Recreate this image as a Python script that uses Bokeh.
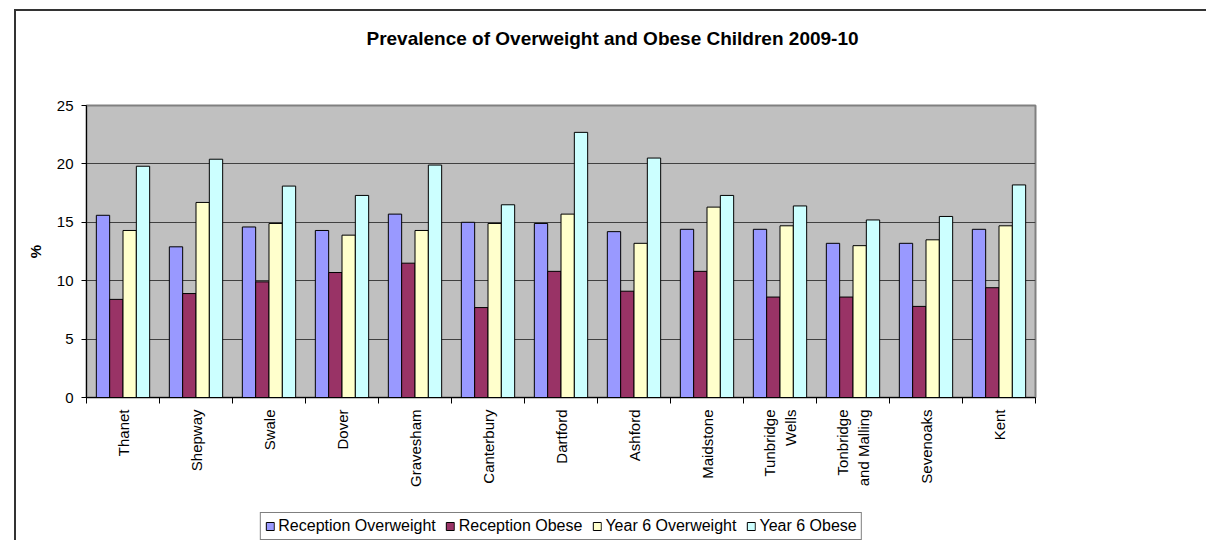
from math import pi
from bokeh.plotting import figure
from bokeh.layouts import column
from bokeh.models import (Range1d, FixedTicker, Legend, LegendItem, Label, ColumnDataSource)
from bokeh.transform import dodge
from bokeh.embed import file_html
from bokeh.resources import INLINE

title_text = "Prevalence of Overweight and Obese Children 2009-10"
districts = ["Thanet", "Shepway", "Swale", "Dover", "Gravesham", "Canterbury", "Dartford",
             "Ashford", "Maidstone", "Tunbridge\nWells", "Tonbridge\nand Malling", "Sevenoaks", "Kent"]
reception_overweight = [15.6, 12.9, 14.6, 14.3, 15.7, 15.0, 14.9, 14.2, 14.4, 14.4, 13.2, 13.2, 14.4]
reception_obese = [8.4, 8.9, 9.9, 10.7, 11.5, 7.7, 10.8, 9.1, 10.8, 8.6, 8.6, 7.8, 9.4]
year6_overweight = [14.3, 16.7, 14.9, 13.9, 14.3, 14.9, 15.7, 13.2, 16.3, 14.7, 13.0, 13.5, 14.7]
year6_obese = [19.8, 20.4, 18.1, 17.3, 19.9, 16.5, 22.7, 20.5, 17.3, 16.4, 15.2, 15.5, 18.2]
series_names = ["Reception Overweight", "Reception Obese", "Year 6 Overweight", "Year 6 Obese"]
y_ticks = [0, 5, 10, 15, 20, 25]

FONT = "Liberation Sans"
colors = ["#9999FF", "#993366", "#FFFFCC", "#CCFFFF"]
cols = ["ro", "rb", "yo", "yb"]
offsets = [-0.274, -0.0913, 0.0913, 0.274]
bar_w = 0.1826
W = 1190

n = len(districts)
centers = [i + 0.5 for i in range(n)]          # category slot centres on a 0..n axis
bounds = list(range(n + 1))                    # slot boundaries (tick marks)

source = ColumnDataSource(dict(pos=centers, ro=reception_overweight, rb=reception_obese,
                               yo=year6_overweight, yb=year6_obese))

# ---- title strip ----
tf = figure(width=W, height=60, x_range=Range1d(0, 1), y_range=Range1d(0, 1),
            x_axis_location=None, y_axis_location=None,
            output_backend="svg", toolbar_location=None,
            min_border_left=0, min_border_right=0, min_border_top=0, min_border_bottom=0,
            background_fill_color="white", border_fill_color="white", outline_line_color=None)
tf.grid.visible = False
tf.add_layout(Label(x=526, y=33, x_units="screen", y_units="screen", text=title_text,
                    text_font=FONT, text_font_size="19px", text_font_style="bold",
                    text_align="center", text_baseline="middle", text_color="black"))

# ---- main chart ----
p = figure(width=W, height=434, x_range=Range1d(0, n), y_range=Range1d(0, 25),
           output_backend="svg", toolbar_location=None,
           min_border_left=70, min_border_right=171, min_border_top=34, min_border_bottom=108,
           background_fill_color="#C0C0C0", border_fill_color="white",
           outline_line_color="#808080", outline_line_width=2)

for col, off, c in zip(cols, offsets, colors):
    p.vbar(x=dodge("pos", off), top=col, width=bar_w, source=source,
           fill_color=c, line_color="black", line_width=1)

p.yaxis.ticker = FixedTicker(ticks=y_ticks)
p.yaxis.minor_tick_line_color = None
p.yaxis.major_tick_in = 0
p.yaxis.major_tick_out = 5
p.yaxis.major_label_standoff = 8
p.yaxis.axis_line_color = "black"
p.yaxis.major_tick_line_color = "black"
p.yaxis.major_label_text_font = FONT
p.yaxis.major_label_text_font_size = "15px"
p.yaxis.major_label_text_color = "black"
p.yaxis.axis_label = "%"
p.yaxis.axis_label_text_font = FONT
p.yaxis.axis_label_text_font_size = "15px"
p.yaxis.axis_label_text_font_style = "bold"
p.yaxis.axis_label_standoff = 10
p.yaxis.axis_label_text_color = "black"

p.ygrid.grid_line_color = "#404040"
p.ygrid.grid_line_width = 1
p.xgrid.visible = False

xa = p.xaxis[0]
xa.ticker = FixedTicker(ticks=centers, minor_ticks=bounds)
xa.major_label_overrides = {c: d for c, d in zip(centers, districts)}
xa.major_tick_line_color = None
xa.major_tick_in = 0
xa.major_tick_out = 6
xa.minor_tick_in = 0
xa.minor_tick_out = 6
xa.minor_tick_line_color = "black"
xa.axis_line_color = "black"
xa.major_label_orientation = pi / 2
xa.major_label_standoff = 6
xa.major_label_text_font = FONT
xa.major_label_text_font_size = "15px"
xa.major_label_text_color = "black"

# ---- legend strip (same series, drawn out of view so only the legend shows) ----
lf = figure(width=W, height=35, x_range=Range1d(0, n), y_range=Range1d(100, 101),
            x_axis_location=None, y_axis_location=None,
            output_backend="svg", toolbar_location=None,
            min_border_left=70, min_border_right=171, min_border_top=0, min_border_bottom=0,
            background_fill_color="white", border_fill_color="white", outline_line_color=None)
lf.grid.visible = False
proxies = [lf.vbar(x=dodge("pos", off), top=col, width=bar_w, source=source,
                   fill_color=c, line_color="black", line_width=1)
           for col, off, c in zip(cols, offsets, colors)]
legend = Legend(items=[LegendItem(label=nm, renderers=[r]) for nm, r in zip(series_names, proxies)],
                orientation="horizontal", location="top",
                label_text_font=FONT, label_text_font_size="16px", label_text_color="black",
                glyph_width=10, glyph_height=10, label_standoff=4, spacing=9, padding=4, margin=7,
                border_line_color="black", border_line_width=1, background_fill_color="white",
                background_fill_alpha=1)
lf.add_layout(legend, "center")

layout = column(tf, p, lf, spacing=0)
layout.styles = {"margin-left": "14px", "margin-top": "9px",
                 "border-left": "2px solid #333333", "border-top": "2px solid #333333"}

open("out.html", "w").write(file_html(layout, INLINE))
